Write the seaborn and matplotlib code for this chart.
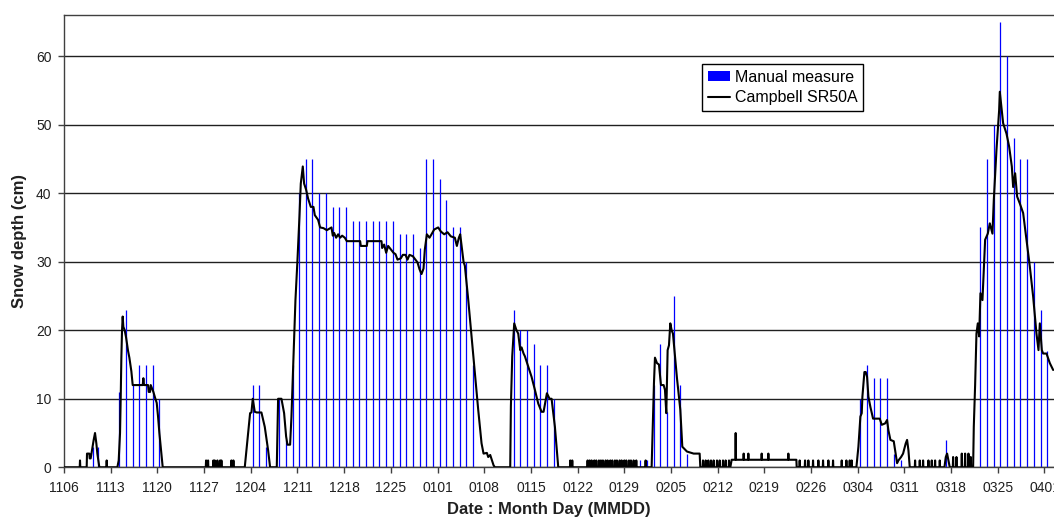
import matplotlib
matplotlib.use("Agg")
import matplotlib.pyplot as plt
from matplotlib.patches import Patch
from matplotlib.lines import Line2D
import numpy as np
import pandas as pd
import seaborn as sns

# ---- x axis: days counted from 6 November, labelled every 7 days ----
tick_days = list(range(0, 148, 7))
tick_labels = ["1106", "1113", "1120", "1127", "1204", "1211", "1218", "1225",
               "0101", "0108", "0115", "0122", "0129", "0205", "0212", "0219",
               "0226", "0304", "0311", "0318", "0325", "0401"]
y_ticks = [0, 10, 20, 30, 40, 50, 60]

# ---- manual snow-depth readings (day, cm) ----
manual_day = [4.3, 5.1, 8.3, 9.35, 10.3, 11.3, 12.3, 13.3, 14.3,
              28.3, 29.3, 30.3, 32.3, 33.3, 34.3,
              35.3, 36.3, 37.2, 38.3, 39.3, 40.3, 41.3, 42.3, 43.3, 44.3,
              45.3, 46.3, 47.3, 48.3, 49.3, 50.3, 51.3, 52.3, 53.3, 54.3,
              55.3, 56.3, 57.3, 58.3, 59.3, 60.3, 61.3,
              67.4, 68.4, 69.4, 70.4, 71.4, 72.4, 73.4,
              86.4, 87.4, 88.4, 89.4, 90.4, 91.4, 92.4, 93.4,
              119.4, 120.4, 121.4, 122.4, 123.4, 124.4, 125.5, 132.3,
              137.4, 138.4, 139.5, 140.4, 141.4, 142.5, 143.4, 144.4, 145.5, 146.5, 147.4]
manual_cm = [3, 3, 11, 23, 12, 15, 15, 15, 10,
             12, 12, 3, 10, 4, 15,
             40, 45, 45, 40, 40, 38, 38, 38, 36, 36,
             36, 36, 36, 36, 36, 34, 34, 34, 32, 45,
             45, 42, 39, 35, 35, 30, 15,
             23, 20, 20, 18, 15, 15, 10,
             1, 1, 12, 18, 8, 25, 12, 2,
             10, 15, 13, 13, 13, 2, 1, 4,
             35, 45, 50, 65, 60, 48, 45, 45, 30, 23, 17]

# ---- Campbell SR50A sensor trace, one array pair per snow episode ----
nov_day = [0, 3.4, 3.45, 3.8, 3.85, 4.0, 4.2, 4.45, 4.65, 4.85, 5.0, 5.3,
           8.0, 8.2, 8.4, 8.5, 8.6, 8.7, 8.8, 8.9, 9.1, 9.3, 9.6, 9.8, 10.1, 10.3,
           11.8, 11.9, 12.0, 12.6, 12.7, 12.9, 13.0, 13.2, 13.4, 13.7, 13.9, 14.1,
           14.3, 14.5, 14.8]
nov_cm = [0, 0, 2, 2, 1.3, 1.3, 2.5, 4, 5, 3.5, 2, 0,
          0, 1, 5, 10, 16, 20, 22, 20.5, 20, 19, 17, 16, 14, 12,
          12, 13, 12, 12, 11, 11, 12, 11.5, 11, 10, 9.4, 7.4,
          5, 3, 0]

dec_day = [27.1, 27.5, 27.9, 28.1, 28.3, 28.6, 28.9, 29.6, 30.1, 30.6, 30.9,
           31.9, 32.1, 32.6, 33.0, 33.3, 33.5, 33.9, 34.1, 34.4, 34.7, 35.0,
           35.3, 35.5, 35.8, 36.0, 36.3, 36.6, 37.0, 37.4, 37.6, 38.1, 38.4,
           38.9, 39.4]
dec_cm = [0, 4, 7.9, 8, 10, 8.1, 8, 8, 5.9, 2.5, 0,
          0, 10, 10, 7.9, 4.5, 3.3, 3.3, 7.4, 16.1, 24.4, 30.2,
          36.6, 41.4, 43.9, 41.4, 40.5, 39.2, 38, 38, 36.8, 36.1, 35,
          34.9, 34.6]

midwinter_day = [40.1, 40.3, 40.5, 40.8, 41.1, 41.4, 41.7, 42.1, 42.4,
                 44.4, 44.5, 45.4, 45.5,
                 47.6, 47.7, 48.0, 48.3, 48.6, 49.0, 49.4, 49.7, 50.0, 50.5,
                 50.8, 51.2, 51.5, 51.8, 52.3, 52.7, 53.0, 53.3, 53.6, 53.9,
                 54.1, 54.4, 54.8, 55.1, 55.5, 56.1, 56.5, 57.0, 57.5, 58.0,
                 58.6, 58.9, 59.2, 59.4, 59.9, 60.1, 60.6, 61.1, 61.6, 62.1,
                 62.6, 62.9, 63.4, 63.6, 63.9, 64.4, 64.6]
midwinter_cm = [35, 33.8, 34.2, 33.5, 34, 33.5, 33.8, 33.5, 33,
                33, 32.3, 32.3, 33,
                33, 32, 32.5, 31.3, 32.3, 31.8, 31.3, 31.1, 30.3, 30.5,
                31, 31, 30.3, 31, 30.8, 30.3, 29.9, 28.9, 28.2, 29,
                31.8, 34, 33.5, 34, 34.7, 35, 34.4, 34, 34.3, 33.7,
                33.5, 32.3, 33.5, 34, 30, 29.4, 24.5, 19.1, 13.8, 8.4,
                3.5, 2, 2.1, 1.5, 1.8, 0.3, 0]

jan_day = [66.9, 67.0, 67.2, 67.5, 67.8, 68.1, 68.4, 68.6, 68.9, 69.1,
           69.6, 70.1, 70.6, 71.1, 71.6, 71.9, 72.4, 72.8, 73.1, 73.6, 74.1]
jan_cm = [0, 8.9, 16.2, 21, 20.1, 19.5, 17.1, 17.5, 16.6, 16.2,
          14.7, 13.2, 11.3, 9.3, 8.1, 8.1, 10.8, 10, 10, 5.9, 0]

feb_day = [88.1, 88.3, 88.45, 88.6, 88.9, 89.2, 89.5, 89.9, 90.1, 90.3,
           90.5, 90.7, 90.9, 91.1, 91.3, 91.6, 91.9, 92.4, 92.7, 93.4,
           94.4, 95.3, 95.4,
           99.9, 100.1, 100.65, 100.7, 100.75, 101.85, 101.9, 101.95,
           102.55, 102.6, 102.65, 104.55, 104.6, 104.65, 105.55, 105.6, 105.65,
           108.55, 108.6, 108.65, 109.8, 109.85]
feb_cm = [0, 6.9, 12.3, 16, 15.2, 15, 12, 12, 11.3, 7.9,
          17.1, 17.8, 21, 20, 19.5, 16.3, 13, 8.4, 3, 2.3,
          2, 2, 0,
          0, 1.1, 1.1, 5, 1.1, 1.1, 2, 1.1,
          1.1, 2, 1.1, 1.1, 2, 1.1, 1.1, 2, 1.1,
          1.1, 2, 1.1, 1.1, 0]

mar_day = [118.8, 119.1, 119.4, 119.6, 119.7, 120.0, 120.2, 120.4, 120.6, 120.9,
           121.3, 122.3, 122.6, 123.1, 123.4, 123.6, 123.9, 124.4, 124.6, 124.9,
           125.1, 125.5, 125.8, 126.2, 126.4, 126.6, 126.8,
           132.0, 132.2, 132.4, 132.6, 132.8]
mar_cm = [0, 3, 7.4, 7.9, 10.3, 13.9, 13.9, 13.2, 10.3, 8.8,
          7.1, 7.1, 6.2, 6.4, 6.9, 5.4, 4, 3.8, 2.5, 0.6,
          1, 1.5, 2, 3.5, 4, 2.5, 0,
          0, 1.5, 2, 1, 0]

spring_day = [136.3, 136.4, 136.6, 136.8, 137.0, 137.2, 137.4, 137.7, 138.1, 138.5,
              138.8, 139.2, 139.4, 139.8, 140.2, 140.3, 140.6, 140.8, 141.3, 141.7,
              142.1, 142.3, 142.6, 142.9, 143.3, 143.8, 144.3, 144.8, 145.3, 145.8,
              146.1, 146.3, 146.6, 146.8, 147.3, 147.8, 148.3]
spring_cm = [0, 5.9, 12, 19.5, 21, 19.1, 25.4, 24.4, 33.2, 34.1,
             35.6, 34.1, 39, 46.3, 52.1, 54.8, 52.1, 50.2, 48.7, 46.8,
             43.9, 40.9, 42.9, 39.5, 38.5, 37.1, 33.2, 29.3, 24.9, 19.5,
             17.1, 21, 17.1, 16.6, 16.6, 15.2, 14.2]

# short false echoes on bare ground (day, cm)
blip_day = [2.4, 6.4, 21.3, 21.6, 22.4, 22.6, 23.0, 23.4, 23.6, 25.1, 25.4,
            75.9, 76.2, 78.5, 78.8, 79.1, 79.5, 79.8, 80.2, 80.5, 80.8, 81.2,
            81.5, 81.9, 82.2, 82.6, 82.9, 83.3, 83.6, 84.0, 84.3, 84.7, 85.0,
            85.4, 85.8, 87.2,
            95.8, 96.2, 96.6, 97.0, 97.4, 97.9, 98.3, 98.8, 99.2, 99.7,
            110.3, 111.1, 111.6, 112.3, 113.1, 113.8, 114.6, 115.3, 116.6,
            117.3, 117.8, 118.1,
            127.6, 128.3, 128.8, 129.6, 130.1, 130.6, 131.3,
            133.3, 133.8, 134.6, 135.1, 135.6, 135.95]
blip_cm = [1, 1, 1, 1, 1, 1, 1, 1, 1, 1, 1,
           1, 1, 1, 1, 1, 1, 1, 1, 1, 1, 1,
           1, 1, 1, 1, 1, 1, 1, 1, 1, 1, 1,
           1, 1, 1,
           1, 1, 1, 1, 1, 1, 1, 1, 1, 1,
           1, 1, 1, 1, 1, 1, 1, 1, 1,
           1, 1, 1,
           1, 1, 1, 1, 1, 1, 1,
           1.5, 1.5, 2, 2, 2, 1.5]

# ---- assemble the sensor series ----
trace_day = nov_day + dec_day + midwinter_day + jan_day + feb_day + mar_day + spring_day
trace_cm = nov_cm + dec_cm + midwinter_cm + jan_cm + feb_cm + mar_cm + spring_cm
half = 0.045
b_day, b_cm = [], []
for d, v in zip(blip_day, blip_cm):
    b_day += [d - half, d, d + half]
    b_cm += [0, v, 0]
sensor = pd.DataFrame({"day": trace_day + b_day, "cm": trace_cm + b_cm})
sensor = sensor.sort_values("day", kind="stable").reset_index(drop=True)
manual = pd.DataFrame({"day": manual_day, "cm": manual_cm})

# ---- figure ----
sns.set_theme(style="white")
plt.rcParams["font.family"] = ["Liberation Sans", "DejaVu Sans"]

W, H = 1054, 518
fig = plt.figure(figsize=(W / 100, H / 100), dpi=100)
left_px, right_px, top_px, bottom_px = 64, 1054, 15, 467.3
ax = fig.add_axes([left_px / W, (H - bottom_px) / H,
                   (right_px - left_px) / W, (bottom_px - top_px) / H])

px_per_day = 6.67
ax.set_xlim(0, (right_px - left_px) / px_per_day)
ax.set_ylim(0, 66)

ax.set_axisbelow(True)
ax.yaxis.grid(True, color="#202020", lw=1.0)
ax.xaxis.grid(False)

# manual measurements as thin blue bars
ax.vlines(manual["day"], 0, manual["cm"], colors="#0000FF", lw=0.9, zorder=2)

# continuous sensor record
sns.lineplot(data=sensor, x="day", y="cm", ax=ax, color="black", lw=1.5,
             estimator=None, sort=False, zorder=3, legend=False)

ax.set_xticks(tick_days)
ax.set_xticklabels(tick_labels)
ax.set_yticks(y_ticks)
ax.tick_params(axis="both", which="major", bottom=True, left=True,
               direction="out", length=4, width=1, color="#404040",
               labelsize=10, labelcolor="#202020")
ax.tick_params(axis="x", pad=6)
ax.tick_params(axis="y", pad=5)

for side in ["left", "bottom", "top"]:
    ax.spines[side].set_color("#404040")
    ax.spines[side].set_linewidth(1.0)
ax.spines["right"].set_visible(False)

ax.set_xlabel("Date : Month Day (MMDD)", fontsize=12, fontweight="bold", color="#202020")
ax.set_ylabel("Snow depth (cm)", fontsize=12, fontweight="bold", color="#202020")
ax.xaxis.set_label_coords(0.49, -0.076)
ax.yaxis.set_label_coords(-0.037, 0.5)

handles = [Patch(facecolor="#0000FF", edgecolor="none", label="Manual measure"),
           Line2D([0], [0], color="black", lw=1.5, label="Campbell SR50A")]
leg = ax.legend(handles=handles, loc="upper left",
                bbox_to_anchor=((702 - left_px) / (right_px - left_px),
                                (bottom_px - 64) / (bottom_px - top_px)),
                borderaxespad=0, fontsize=11.5, frameon=True, fancybox=False,
                shadow=False, borderpad=0.35, handlelength=1.4, handleheight=0.65,
                handletextpad=0.3, labelspacing=0.35)
leg.get_frame().set_edgecolor("black")
leg.get_frame().set_linewidth(1.0)
leg.get_frame().set_facecolor("white")
leg.get_frame().set_alpha(1.0)
for t in leg.get_texts():
    t.set_color("black")

fig.savefig("out.png", dpi=100)
